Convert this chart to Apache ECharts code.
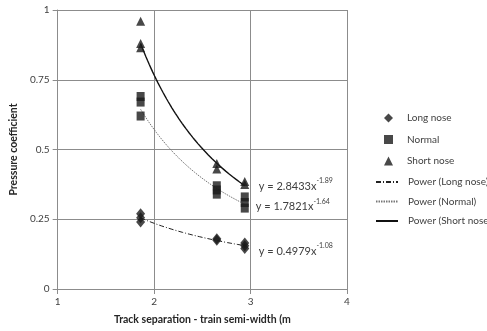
<!DOCTYPE html>
<html>
<head>
<meta charset="utf-8">
<script src="https://cdn.jsdelivr.net/npm/echarts@6/dist/echarts.min.js"></script>
<style>
  html, body { margin: 0; padding: 0; background: #fff; }
  #chart { width: 487px; height: 331px; }
</style>
</head>
<body>
<div id="chart"></div>
<script>
// Measured pressure coefficients against track separation minus train semi-width
const longNoseX = [1.86, 1.86, 1.86, 2.65, 2.65, 2.94, 2.94, 2.94];
const longNoseY = [0.27, 0.255, 0.24, 0.18, 0.175, 0.165, 0.155, 0.145];
const normalX = [1.86, 1.86, 1.86, 2.65, 2.65, 2.65, 2.94, 2.94, 2.94];
const normalY = [0.69, 0.67, 0.62, 0.37, 0.355, 0.34, 0.33, 0.31, 0.29];
const shortNoseX = [1.86, 1.86, 1.86, 2.65, 2.65, 2.94, 2.94];
const shortNoseY = [0.96, 0.88, 0.865, 0.45, 0.43, 0.385, 0.375];

// Fitted power-law trends y = a * x^b, over the measured x range
const trendNames = ['Power (Long nose)', 'Power (Normal)', 'Power (Short nose)'];
const trendA = [0.4979, 1.7821, 2.8433];
const trendB = [-1.08, -1.64, -1.89];
const trendXRange = [1.86, 2.94];

const xTicks = [1, 2, 3, 4];
const yTicks = [0, 0.25, 0.5, 0.75, 1];

const FONT = 'Lato, "Open Sans", sans-serif';
const INK = '#1a1a1a';

function pairs(xs, ys) { return xs.map((x, i) => [x, ys[i]]); }

function trendCurve(a, b) {
  const pts = [];
  const n = 60;
  for (let i = 0; i <= n; i++) {
    const x = trendXRange[0] + (trendXRange[1] - trendXRange[0]) * i / n;
    pts.push([x, a * Math.pow(x, b)]);
  }
  return pts;
}

function eqLabel(a, b) {
  return '{t|y = ' + a.toFixed(4) + 'x}{s|' + b + '}';
}

const trendStyles = [
  { color: '#222', width: 1, type: [5, 2, 1, 2] },
  { color: '#777', width: 1, type: [1.5, 1] },
  { color: '#111', width: 1.4, type: 'solid' }
];
const labelOffsets = [[14, 4], [11, 1], [14, -1]];

const chart = echarts.init(document.getElementById('chart'), null, { renderer: 'canvas' });

const trendSeries = trendNames.map((name, i) => ({
  name: name,
  type: 'line',
  data: trendCurve(trendA[i], trendB[i]),
  showSymbol: false,
  symbol: 'none',
  smooth: false,
  silent: true,
  z: 2,
  lineStyle: trendStyles[i],
  itemStyle: { color: trendStyles[i].color },
  endLabel: {
    show: true,
    formatter: eqLabel(trendA[i], trendB[i]),
    distance: labelOffsets[i][0],
    offset: [0, labelOffsets[i][1]],
    rich: {
      t: { fontFamily: FONT, fontSize: 11, color: '#404040', verticalAlign: 'bottom', lineHeight: 14 },
      s: { fontFamily: FONT, fontSize: 7, color: '#404040', verticalAlign: 'top', lineHeight: 14, padding: [0, 0, 7, 0] }
    }
  }
}));

const legendText = { fontFamily: FONT, fontSize: 10, color: '#404040' };

const option = {
  animation: false,
  backgroundColor: '#fff',
  grid: { left: 54, right: 140, top: 10, bottom: 42, containLabel: false },
  xAxis: {
    type: 'value',
    min: xTicks[0], max: xTicks[xTicks.length - 1], interval: 1,
    name: 'Track separation - train semi-width (m',
    nameLocation: 'middle', nameGap: 25,
    nameTextStyle: { fontFamily: FONT, fontSize: 10.5, fontWeight: 'bold', color: '#262626' },
    axisLine: { show: true, lineStyle: { color: '#8c8c8c', width: 1 } },
    axisTick: { show: true, length: 5, lineStyle: { color: '#8c8c8c' } },
    axisLabel: { fontFamily: FONT, fontSize: 10, color: '#404040', margin: 8 },
    splitLine: { show: true, lineStyle: { color: '#8c8c8c', width: 1 } }
  },
  yAxis: {
    type: 'value',
    min: yTicks[0], max: yTicks[yTicks.length - 1], interval: 0.25,
    name: 'Pressure coefficient',
    nameLocation: 'middle', nameGap: 34,
    nameTextStyle: { fontFamily: FONT, fontSize: 10.5, fontWeight: 'bold', color: '#262626' },
    axisLine: { show: true, lineStyle: { color: '#8c8c8c', width: 1 } },
    axisTick: { show: true, length: 5, lineStyle: { color: '#8c8c8c' } },
    axisLabel: { fontFamily: FONT, fontSize: 10, color: '#404040', margin: 8,
      formatter: v => String(v) },
    splitLine: { show: true, lineStyle: { color: '#8c8c8c', width: 1 } }
  },
  legend: [
    {
      // marker legend: small symbols
      orient: 'vertical',
      left: 379, top: 108,
      itemWidth: 9, itemHeight: 9, itemGap: 11.5,
      textStyle: Object.assign({ padding: [0, 0, 0, 9] }, legendText),
      data: [
        { name: 'Long nose', icon: 'diamond' },
        { name: 'Normal', icon: 'rect' },
        { name: 'Short nose', icon: 'triangle' }
      ]
    },
    {
      // trend-line legend: line samples only
      orient: 'vertical',
      left: 370, top: 172,
      itemWidth: 22, itemHeight: 10, itemGap: 9.5,
      textStyle: Object.assign({ padding: [0, 0, 0, 5] }, legendText),
      data: trendNames.map(n => ({ name: n, itemStyle: { opacity: 0 } }))
    }
  ],
  series: [
    {
      name: 'Long nose', type: 'scatter', data: pairs(longNoseX, longNoseY),
      symbol: 'diamond', symbolSize: [9, 11], itemStyle: { color: INK }, z: 3
    },
    {
      name: 'Normal', type: 'scatter', data: pairs(normalX, normalY),
      symbol: 'rect', symbolSize: [8, 9], itemStyle: { color: INK }, z: 3
    },
    {
      name: 'Short nose', type: 'scatter', data: pairs(shortNoseX, shortNoseY),
      symbol: 'triangle', symbolSize: [9, 9], itemStyle: { color: INK }, z: 3
    }
  ].concat(trendSeries)
};

chart.setOption(option);
</script>
</body>
</html>
